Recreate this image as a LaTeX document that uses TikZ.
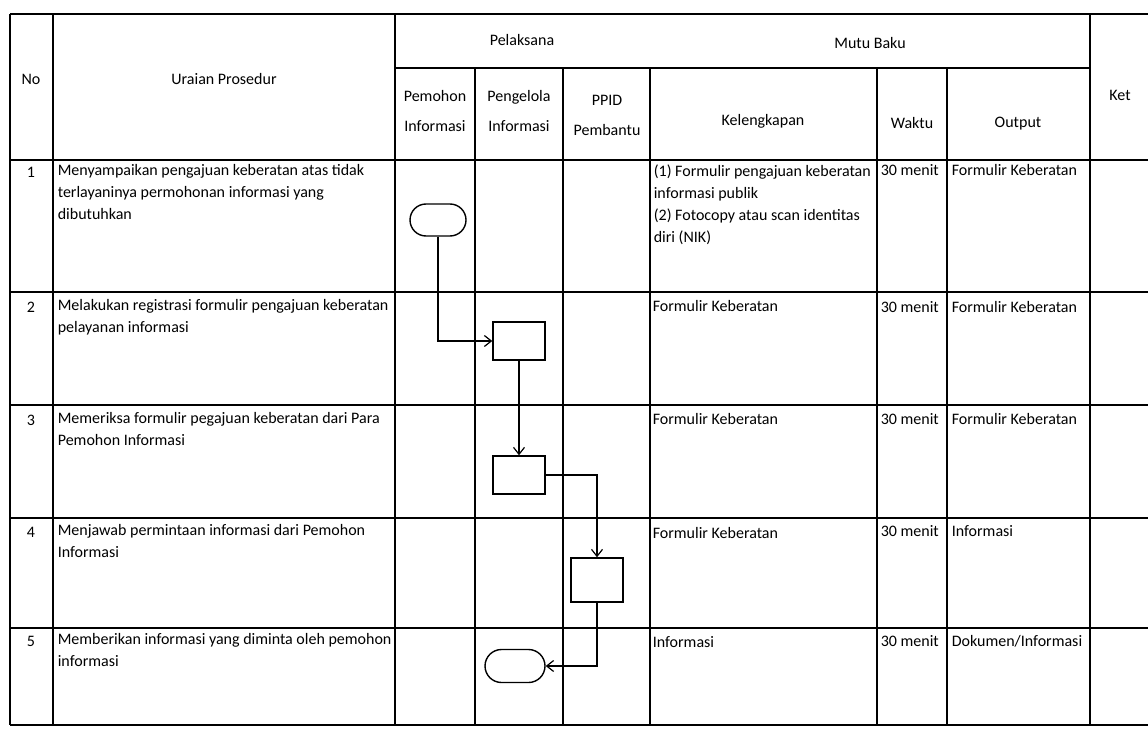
\documentclass[tikz,border=0pt]{standalone}
\usepackage{fontspec}
\setmainfont{Carlito}
\usepackage{tikz}
\usetikzlibrary{shapes,arrows.meta}

\begin{document}
\begin{tikzpicture}[x=1pt, y=-1pt, line width=1.6pt,
  teks/.style={anchor=north west, inner sep=0pt, align=left, font=\fontsize{16}{22}\selectfont},
  judul/.style={inner sep=0pt, align=center, font=\fontsize{16}{30}\selectfont},
  mulai/.style={draw, rounded rectangle, minimum width=56pt, minimum height=32pt, inner sep=0pt, line width=1.4pt},
  proses/.style={draw, rectangle, minimum width=52pt, minimum height=38pt, inner sep=0pt, line width=1.4pt},
  alur/.style={-{Straight Barb[length=7pt,width=11pt]}, line width=1.2pt}]

  \useasboundingbox (0,0) rectangle (1148,735);

  % garis tabel
  \draw (10,14) -- (1148,14);
  \draw (395,68) -- (1090,68);
  \draw (10,160) -- (1148,160);
  \foreach \y in {292,405,518,628,725}
    \draw (10,\y) -- (1148,\y);
  \foreach \x in {10,53,395,1090}
    \draw (\x,14) -- (\x,725);
  \foreach \x in {475,563,650,877,947}
    \draw (\x,68) -- (\x,725);

  % kepala tabel
  \node[judul] (no) at (31,79) {No};
  \node[judul] (uraian) at (224,79) {Uraian Prosedur};
  \node[judul] (pelaksana) at (522,40) {Pelaksana};
  \node[judul] (mutu) at (870,43) {Mutu Baku};
  \node[judul] (ket) at (1120,95) {Ket};
  \node[judul] (pemohon) at (435,111) {Pemohon\\Informasi};
  \node[judul] (pengelola) at (519,111) {Pengelola\\Informasi};
  \node[judul] (ppid) at (607,115) {PPID\\Pembantu};
  \node[judul] (kelengkapan) at (763,121) {Kelengkapan};
  \node[judul] (waktu) at (912,123) {Waktu};
  \node[judul] (output) at (1018,124) {Output};

  % nomor dan uraian
  \node[judul] (n1) at (31,172) {1};
  \node[judul] (n2) at (31,307) {2};
  \node[judul] (n3) at (31,420) {3};
  \node[judul] (n4) at (31,532) {4};
  \node[judul] (n5) at (31,641) {5};
  \node[teks] (u1) at (57,164) {Menyampaikan pengajuan keberatan atas tidak\\terlayaninya permohonan informasi yang\\dibutuhkan};
  \node[teks] (u2) at (57,299) {Melakukan registrasi formulir pengajuan keberatan\\pelayanan informasi};
  \node[teks] (u3) at (57,412) {Memeriksa formulir pegajuan keberatan dari Para\\Pemohon Informasi};
  \node[teks] (u4) at (57,524) {Menjawab permintaan informasi dari Pemohon\\Informasi};
  \node[teks] (u5) at (57,633) {Memberikan informasi yang diminta oleh pemohon\\informasi};

  % mutu baku
  \node[teks] (k1) at (653,164) {(1) Formulir pengajuan keberatan\\informasi publik\\(2) Fotocopy atau scan identitas\\diri (NIK)};
  \node[teks] (k2) at (652,300) {Formulir Keberatan};
  \node[teks] (k3) at (652,413) {Formulir Keberatan};
  \node[teks] (k4) at (652,527) {Formulir Keberatan};
  \node[teks] (k5) at (652,636) {Informasi};
  \foreach \y/\i in {164/1,301/2,413/3,525/4,635/5}
    \node[teks] (w\i) at (880,\y) {30 menit};
  \node[teks] (o1) at (951,164) {Formulir Keberatan};
  \node[teks] (o2) at (951,301) {Formulir Keberatan};
  \node[teks] (o3) at (951,413) {Formulir Keberatan};
  \node[teks] (o4) at (951,525) {Informasi};
  \node[teks] (o5) at (951,635) {Dokumen/Informasi};

  % bagan alir
  \node[mulai] (awal) at (438,220) {};
  \node[proses] (registrasi) at (519,341) {};
  \node[proses] (periksa) at (519,475) {};
  \node[proses, minimum height=44pt] (jawab) at (597,580) {};
  \node[mulai, minimum width=60pt, minimum height=33pt] (akhir) at (515,666) {};

  \draw[alur] (awal.south) |- (registrasi.west);
  \draw[alur] (registrasi.south) -- (periksa.north);
  \draw[alur] (periksa.east) -| (jawab.north);
  \draw[alur] (jawab.south) |- (akhir.east);

\end{tikzpicture}
\end{document}
